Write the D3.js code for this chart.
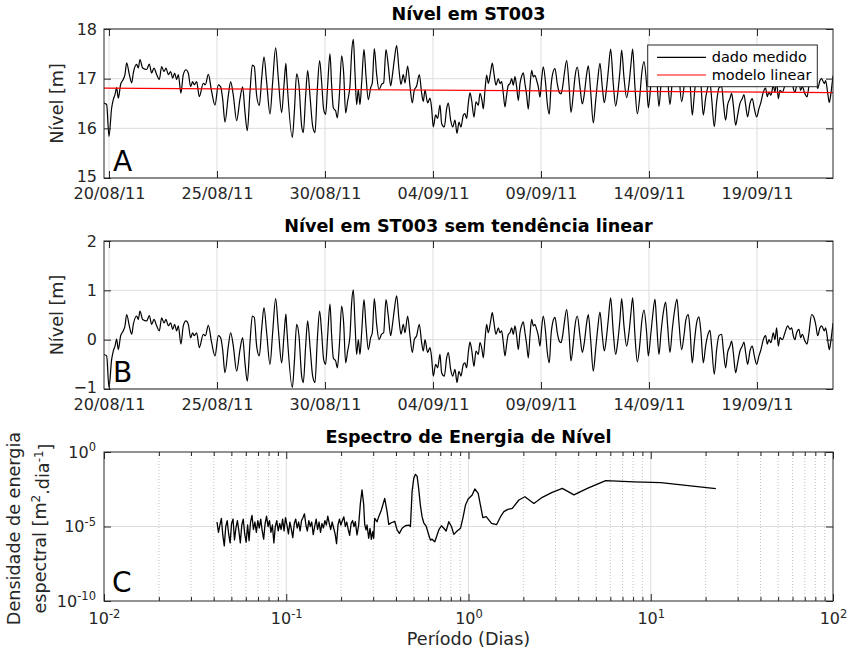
<!DOCTYPE html>
<html lang="pt">
<head>
<meta charset="UTF-8">
<title>Nível em ST003</title>
<style>
  body { margin: 0; background: #fff; }
  svg text { font-family: "DejaVu Sans", sans-serif; fill: #262626; }
</style>
</head>
<body>
<div id="root"></div>
<script src="https://d3js.org/d3.v7.min.js"></script>
<script>
// nível sem tendência [m]; tempo em dias desde 20/08/2011 00:00
const dias = [-0.231, -0.108, 0.0, 0.123, 0.2, 0.278, 0.355, 0.432, 0.54, 0.664, 0.741, 0.818, 0.94, 1.05, 1.127, 1.281, 1.358, 1.435, 1.559, 1.744,
  1.867, 1.975, 2.083, 2.207, 2.33, 2.438, 2.546, 2.639, 2.747, 2.855, 2.948, 3.04, 3.133, 3.21, 3.33, 3.44, 3.565, 3.673, 3.78, 3.873,
  3.95, 4.059, 4.182, 4.367, 4.46, 4.599, 4.753, 4.907, 5.062, 5.17, 5.262, 5.37, 5.525, 5.633, 5.756, 5.91, 6.065, 6.188, 6.296, 6.404,
  6.528, 6.636, 6.728, 6.836, 6.96, 7.068, 7.176, 7.3, 7.454, 7.577, 7.716, 7.84, 7.994, 8.102, 8.19, 8.225, 8.488, 8.58, 8.688, 8.796,
  8.92, 8.997, 9.105, 9.198, 9.306, 9.43, 9.537, 9.645, 9.753, 9.846, 9.938, 10.03, 10.123, 10.231, 10.309, 10.386, 10.494, 10.571, 10.664, 10.772,
  10.864, 10.957, 11.049, 11.157, 11.235, 11.312, 11.389, 11.466, 11.543, 11.62, 11.698, 11.806, 11.898, 12.006, 12.114, 12.191, 12.284, 12.392, 12.5, 12.623,
  12.716, 12.824, 12.932, 13.04, 13.117, 13.21, 13.318, 13.426, 13.519, 13.627, 13.704, 13.827, 13.935, 14.043, 14.136, 14.244, 14.367, 14.475, 14.552, 14.63,
  14.753, 14.861, 14.938, 15.015, 15.123, 15.216, 15.324, 15.401, 15.525, 15.633, 15.71, 15.818, 15.91, 16.019, 16.111, 16.204, 16.296, 16.404, 16.481, 16.559,
  16.636, 16.713, 16.79, 16.898, 16.991, 17.099, 17.176, 17.269, 17.33, 17.407, 17.485, 17.562, 17.67, 17.747, 17.824, 17.917, 18.025, 18.102, 18.179, 18.256,
  18.333, 18.41, 18.488, 18.565, 18.642, 18.719, 18.796, 18.873, 18.951, 19.028, 19.105, 19.182, 19.259, 19.336, 19.414, 19.491, 19.568, 19.645, 19.722, 19.799,
  19.877, 19.954, 20.031, 20.108, 20.216, 20.293, 20.386, 20.463, 20.54, 20.648, 20.756, 20.849, 20.926, 21.003, 21.08, 21.188, 21.296, 21.389, 21.497, 21.574,
  21.682, 21.806, 21.914, 22.006, 22.114, 22.191, 22.299, 22.423, 22.531, 22.623, 22.731, 22.839, 22.932, 23.04, 23.117, 23.225, 23.349, 23.457, 23.549, 23.657,
  23.735, 23.843, 23.966, 24.074, 24.167, 24.244, 24.352, 24.46, 24.583, 24.66, 24.769, 24.892, 24.969, 25.077, 25.17, 25.278, 25.355, 25.463, 25.556, 25.664,
  25.772, 25.864, 25.972, 26.08, 26.173, 26.296, 26.389, 26.512, 26.62, 26.713, 26.821, 26.898, 27.006, 27.099, 27.207, 27.315, 27.407, 27.515, 27.623, 27.716,
  27.824, 27.901, 28.025, 28.133, 28.241, 28.364, 28.441, 28.549, 28.642, 28.75, 28.827, 28.904, 29.012, 29.105, 29.213, 29.321, 29.398, 29.475, 29.568, 29.676,
  29.784, 29.877, 29.985, 30.093, 30.185, 30.293, 30.401, 30.478, 30.556, 30.648, 30.756, 30.833, 30.91, 30.988, 31.065, 31.173, 31.296, 31.42, 31.528, 31.605,
  31.682, 31.759, 31.836, 31.944, 32.022, 32.099, 32.222, 32.315, 32.407, 32.531, 32.639, 32.731, 32.809, 32.917, 32.994, 33.117, 33.179, 33.272, 33.349, 33.41,
  33.52]
const anomalia = [-0.30, -0.33, -0.97, -0.40, -0.23, -0.13, 0.01, -0.20, 0.08, 0.18, 0.28, 0.51, 0.28, 0.11, 0.31, 0.48, 0.41, 0.58, 0.41, 0.38,
  0.49, 0.31, 0.41, 0.28, 0.18, 0.44, 0.34, 0.41, 0.28, 0.34, 0.21, 0.31, 0.18, 0.28, -0.09, 0.28, 0.38, 0.31, 0.04, 0.14,
  0.08, 0.14, -0.16, 0.11, 0.08, 0.29, -0.06, -0.33, 0.08, 0.04, -0.20, -0.67, -0.13, 0.14, -0.13, -0.64, -0.20, 0.04, -0.47, -0.84,
  -0.06, 0.48, 0.45, -0.13, -0.33, 0.21, 0.65, 0.14, -0.50, 0.14, 0.83, 0.21, -0.47, 0.08, 0.52, 0.28, -0.97, -0.47, 0.31, 0.08,
  -0.74, -0.87, -0.13, 0.38, -0.13, -0.74, -0.87, 0.00, 0.58, 0.14, -0.40, -0.50, 0.08, 0.72, 0.08, -0.37, -0.43, -0.57, -0.13, 0.68,
  0.34, -0.47, -0.23, 0.08, 0.75, 1.01, 0.34, -0.30, 0.00, -0.30, 0.14, 0.81, 0.28, -0.20, 0.04, 0.14, 0.83, 0.31, 0.00, 0.11,
  0.14, 0.81, 0.48, 0.08, 0.28, 0.61, 0.89, 0.41, 0.11, 0.31, 0.14, 0.48, 0.08, -0.26, 0.00, 0.08, 0.31, -0.06, -0.23, 0.00,
  -0.26, -0.16, -0.37, -0.74, -0.50, -0.57, -0.30, -0.67, -0.74, -0.37, -0.26, -0.60, -0.74, -0.60, -0.87, -0.64, -0.74, -0.50, -0.47, -0.57,
  -0.26, -0.05, -0.20, -0.54, -0.23, -0.30, -0.06, -0.20, -0.37, 0.00, 0.31, 0.14, 0.38, 0.55, 0.34, 0.11, 0.24, 0.14, 0.18, -0.06,
  -0.33, -0.09, 0.11, 0.14, 0.24, 0.11, 0.28, 0.08, -0.20, 0.14, 0.29, 0.36, 0.14, -0.09, -0.37, 0.08, 0.41, 0.28, 0.31, 0.21,
  0.08, -0.13, 0.24, 0.48, 0.14, -0.26, -0.47, 0.08, 0.34, 0.45, 0.14, -0.03, -0.06, 0.08, 0.34, 0.61, 0.14, -0.43, -0.06, 0.28,
  0.48, 0.08, -0.26, -0.06, 0.34, 0.51, 0.00, -0.64, -0.20, 0.21, 0.56, 0.08, -0.23, 0.08, 0.41, 0.85, 0.14, -0.30, -0.06, 0.41,
  0.83, 0.28, -0.13, 0.14, 0.55, 0.85, 0.08, -0.45, -0.06, 0.34, 0.60, 0.14, -0.33, 0.08, 0.48, 0.82, 0.34, -0.30, 0.14, 0.55,
  0.76, 0.28, -0.26, 0.21, 0.55, 0.82, 0.34, -0.20, 0.08, 0.41, 0.51, 0.21, -0.47, -0.06, 0.34, 0.46, 0.14, -0.47, -0.13, 0.08,
  0.19, -0.13, -0.70, -0.20, 0.08, 0.11, -0.20, -0.57, -0.26, -0.13, -0.03, -0.26, -0.67, -0.47, -0.23, -0.13, -0.05, -0.26, -0.50, -0.23,
  -0.13, -0.33, -0.50, -0.33, -0.20, 0.00, 0.08, -0.09, 0.00, -0.06, 0.14, 0.00, 0.24, -0.13, 0.04, 0.00, 0.14, 0.28, 0.21, 0.24,
  0.08, 0.00, 0.14, 0.21, 0.04, 0.11, -0.03, -0.09, 0.14, 0.51, 0.45, 0.28, 0.08, 0.24, 0.28, 0.18, 0.24, 0.00, -0.20, -0.06,
  0.34]

// modelo linear ajustado ao nível medido (extremidades do registo)
const modeloDias = [-0.231, 33.52]
const modeloNivel = [16.81, 16.72]

const datasTicks = ["2011-08-20", "2011-08-25", "2011-08-30", "2011-09-04", "2011-09-09", "2011-09-14", "2011-09-19"]
const nivelTicks = [15, 16, 17, 18]
const anomaliaTicks = [-1, 0, 1, 2]

// espectro: período [dias] e log10 da densidade de energia [m2.dia-1]
const periodo = [0.04169, 0.04246, 0.04325, 0.04406, 0.04488, 0.04571, 0.04656, 0.04742, 0.04831, 0.04920,
  0.05012, 0.05105, 0.05200, 0.05297, 0.05395, 0.05495, 0.05598, 0.05702, 0.05808, 0.05916,
  0.06026, 0.06138, 0.06252, 0.06368, 0.06486, 0.06607, 0.06730, 0.06855, 0.06982, 0.07112,
  0.07244, 0.07379, 0.07516, 0.07656, 0.07798, 0.07943, 0.08091, 0.08241, 0.08395, 0.08551,
  0.08710, 0.08872, 0.09036, 0.09204, 0.09376, 0.09550, 0.09727, 0.09908, 0.1009, 0.1028,
  0.1047, 0.1067, 0.1086, 0.1107, 0.1127, 0.1148, 0.1169, 0.1191, 0.1213, 0.1236,
  0.1259, 0.1282, 0.1306, 0.1330, 0.1355, 0.1380, 0.1406, 0.1432, 0.1459, 0.1486,
  0.1514, 0.1542, 0.1570, 0.1600, 0.1629, 0.1660, 0.1690, 0.1722, 0.1754, 0.1786,
  0.1820, 0.1854, 0.1888, 0.1923, 0.1959, 0.1995, 0.2032, 0.2070, 0.2109, 0.2148,
  0.2188, 0.2228, 0.2270, 0.2312, 0.2355,
  0.2394, 0.2445, 0.2497, 0.2551, 0.2605, 0.2660, 0.2694, 0.2740, 0.2774, 0.2834,
  0.2882, 0.2931, 0.2981, 0.3019, 0.3057, 0.3149, 0.3216, 0.3327, 0.3470, 0.3574,
  0.3650, 0.3775, 0.3937, 0.4056, 0.4177, 0.4320, 0.4506, 0.4701, 0.4801, 0.4903,
  0.5007, 0.5114, 0.5224, 0.5334, 0.5447, 0.5563, 0.5682, 0.5853, 0.6053, 0.6183,
  0.6316, 0.6531, 0.6726, 0.6871, 0.7105, 0.7319, 0.7538, 0.7796, 0.8064, 0.8306,
  0.8663, 0.9037, 0.9309, 0.9627, 0.9959, 1.0476, 1.0834, 1.130, 1.164, 1.199,
  1.251, 1.338, 1.425, 1.499, 1.563, 1.644, 1.739, 1.890, 2.039, 2.285,
  2.541, 2.858, 3.272, 3.790, 4.489, 5.657, 8.093, 11.35, 22.76]
const logEnergia = [-4.7, -5.4, -4.9, -4.45, -5.6, -6.3, -5.0, -4.6, -5.5, -6.1,
  -4.8, -4.5, -5.9, -5.1, -4.6, -5.3, -6.1, -4.9, -4.5, -5.5,
  -6.05, -4.9, -5.95, -4.7, -4.25, -5.2, -4.7, -5.4, -4.6, -5.1,
  -4.5, -5.3, -5.85, -4.8, -4.3, -5.0, -4.6, -5.4, -4.9, -6.1,
  -5.0, -4.6, -5.3, -4.8, -5.2, -4.5, -5.3, -4.4, -4.9, -5.5,
  -4.7, -5.2, -5.75, -4.8, -4.5, -5.1, -4.7, -5.3, -4.6, -4.4,
  -4.15, -4.9, -5.3, -4.6, -5.0, -4.7, -5.55, -5.0, -4.5, -5.2,
  -4.7, -5.4, -4.8, -5.1, -4.6, -4.9, -4.3, -4.8, -5.2, -4.7,
  -5.1, -5.5, -6.15, -4.9, -4.5, -4.9, -4.6, -4.35, -5.0, -4.7,
  -5.2, -5.6, -4.8, -4.6, -5.0,
  -4.68, -5.57, -4.9, -3.45, -2.55, -3.52, -4.86, -5.23, -4.9, -5.79,
  -5.12, -5.86, -5.35, -5.79, -4.45, -4.68, -4.34, -3.89, -3.11, -4.0,
  -4.86, -4.75, -4.65, -5.23, -5.46, -5.12, -4.95, -4.9, -5.0, -2.66,
  -1.77, -1.5, -1.62, -2.5, -3.6, -4.34, -4.75, -4.97, -5.57, -5.91,
  -5.85, -6.02, -5.57, -5.23, -4.95, -5.12, -5.3, -4.68, -5.0, -5.53,
  -5.3, -5.12, -4.45, -3.56, -3.15, -2.89, -2.48, -2.77, -3.6, -4.41,
  -4.34, -4.79, -4.88, -4.34, -4.0, -3.85, -3.78, -3.22, -3.0, -3.45,
  -3.04, -2.73, -2.44, -2.88, -2.44, -1.92, -2.01, -2.06, -2.46]

// layout
const W = 853, H = 656
const left = 104, width = 833 - 104
const tick = 7
const corEixo = "#262626", corGrade = "#dedede"

const svg = d3.select("#root").append("svg")
  .attr("width", W)
  .attr("height", H)
  .style("display", "block")

const inicio = Date.UTC(2011, 7, 20)
const paraData = d => new Date(inicio + d * 864e5)
const fmtData = d3.utcFormat("%d/%m/%y")

const x = d3.scaleUtc()
  .domain(d3.extent(dias).map(paraData))
  .range([0, width])
const datas = datasTicks.map(s => new Date(s + "T00:00:00Z"))

const nivelModelo = d3.scaleLinear().domain(modeloDias).range(modeloNivel)
const nivel = dias.map((d, i) => anomalia[i] + nivelModelo(d))

function painel(id, top, height, titulo) {
  const g = svg.append("g").attr("transform", `translate(${left},${top})`)
  g.append("clipPath").attr("id", "clip" + id)
    .append("rect").attr("width", width).attr("height", height)
  g.append("text")
    .attr("x", width / 2).attr("y", -9)
    .attr("text-anchor", "middle")
    .style("font-size", "17.6px").style("font-weight", "bold").style("fill", "#000")
    .text(titulo)
  return g
}

function limpar(sel) {
  sel.select(".domain").remove()
  sel.selectAll(".tick line").attr("stroke", corEixo)
}

function moldura(g, height) {
  g.append("rect")
    .attr("width", width).attr("height", height)
    .attr("fill", "none").attr("stroke", corEixo).attr("stroke-width", 1)
}

function painelTempo(id, top, height, dominio, ticks, serie, titulo, letra) {
  const g = painel(id, top, height, titulo)
  const y = d3.scaleLinear().domain(dominio).range([height, 0])

  // grade
  g.append("g").selectAll("line").data(datas).join("line")
    .attr("x1", d => x(d)).attr("x2", d => x(d)).attr("y1", 0).attr("y2", height)
    .attr("stroke", corGrade)
  g.append("g").selectAll("line").data(ticks).join("line")
    .attr("y1", d => y(d)).attr("y2", d => y(d)).attr("x1", 0).attr("x2", width)
    .attr("stroke", corGrade)

  const linha = d3.line().x((d, i) => x(paraData(dias[i]))).y(d => y(d)).curve(d3.curveMonotoneX)
  const dados = g.append("g").attr("clip-path", `url(#clip${id})`)
  dados.append("path").datum(serie)
    .attr("d", linha).attr("fill", "none")
    .attr("stroke", "#000").attr("stroke-width", 1.2).attr("stroke-linejoin", "round")

  g.append("text").attr("x", 9).attr("y", height - 7)
    .style("font-size", "28px").style("fill", "#000").text(letra)

  g.append("g").attr("transform", `translate(0,${height})`)
    .call(d3.axisBottom(x).tickValues(datas).tickFormat(fmtData).tickSizeInner(-tick).tickSizeOuter(0).tickPadding(10))
    .call(limpar)
    .call(a => a.selectAll("text").style("font-size", "16px").attr("fill", corEixo))
  g.append("g")
    .call(d3.axisTop(x).tickValues(datas).tickFormat("").tickSizeInner(-tick).tickSizeOuter(0))
    .call(limpar)
  g.append("g")
    .call(d3.axisLeft(y).tickValues(ticks).tickFormat(d3.format("d")).tickSizeInner(-tick).tickSizeOuter(0).tickPadding(7))
    .call(limpar)
    .call(a => a.selectAll("text").style("font-size", "16px").attr("fill", corEixo))
    .call(a => a.selectAll(".tick text").filter(d => d === dominio[0]).attr("dy", "0.2em"))
  g.append("g").attr("transform", `translate(${width},0)`)
    .call(d3.axisRight(y).tickValues(ticks).tickFormat("").tickSizeInner(-tick).tickSizeOuter(0))
    .call(limpar)
  moldura(g, height)

  g.append("text")
    .attr("transform", `translate(-41,${height / 2}) rotate(-90)`)
    .attr("text-anchor", "middle")
    .style("font-size", "17.6px")
    .text("Nível [m]")
  return { g, y }
}

// A: nível medido e modelo linear
const A = painelTempo("A", 29, 149, [15, 18], nivelTicks, nivel, "Nível em ST003", "A")
A.g.select(`g[clip-path]`).append("path")
  .datum(modeloDias)
  .attr("d", d3.line().x(d => x(paraData(d))).y((d, i) => A.y(modeloNivel[i])))
  .attr("fill", "none").attr("stroke", "#ff0000").attr("stroke-width", 1.2)

const leg = A.g.append("g").attr("transform", `translate(${647.7 - left},${45 - 29})`)
leg.append("rect").attr("width", 169.6).attr("height", 41.7)
  .attr("fill", "#fff").attr("stroke", corEixo).attr("stroke-width", 1)
const itens = [{ nome: "dado medido", cor: "#000" }, { nome: "modelo linear", cor: "#ff0000" }]
itens.forEach((it, i) => {
  const yy = 12.3 + i * 17.7
  leg.append("line").attr("x1", 9.3).attr("x2", 58.3).attr("y1", yy).attr("y2", yy)
    .attr("stroke", it.cor).attr("stroke-width", 1.2)
  leg.append("text").attr("x", 64).attr("y", yy).attr("dy", "0.35em")
    .style("font-size", "14.5px").style("fill", "#000").text(it.nome)
})

// B: sem tendência
painelTempo("B", 241, 148, [-1, 2], anomaliaTicks, anomalia, "Nível em ST003 sem tendência linear", "B")

// C: espectro
const hC = 149
const gC = painel("C", 452, hC, "Espectro de Energia de Nível")
const xl = d3.scaleLog().domain([1e-2, 1e2]).range([0, width])
const yl = d3.scaleLog().domain([1e-10, 1e0]).range([hC, 0])
const xMaior = [1e-2, 1e-1, 1e0, 1e1, 1e2]
const yMaior = [1e-10, 1e-5, 1e0]
const xMenor = xl.ticks().filter(d => !xMaior.some(m => Math.abs(d - m) < 1e-12))

gC.append("g").selectAll("line").data(xMenor).join("line")
  .attr("x1", d => xl(d)).attr("x2", d => xl(d)).attr("y1", 0).attr("y2", hC)
  .attr("stroke", "#c4c4c4").attr("stroke-dasharray", "1,2")
gC.append("g").selectAll("line").data(xMaior.slice(1, -1)).join("line")
  .attr("x1", d => xl(d)).attr("x2", d => xl(d)).attr("y1", 0).attr("y2", hC)
  .attr("stroke", corGrade)
gC.append("g").selectAll("line").data(yMaior.slice(1, -1)).join("line")
  .attr("y1", d => yl(d)).attr("y2", d => yl(d)).attr("x1", 0).attr("x2", width)
  .attr("stroke", corGrade)

gC.append("g").attr("clip-path", "url(#clipC)")
  .append("path").datum(periodo)
  .attr("d", d3.line().x(d => xl(d)).y((d, i) => yl(Math.pow(10, logEnergia[i]))))
  .attr("fill", "none").attr("stroke", "#000").attr("stroke-width", 1.3).attr("stroke-linejoin", "round")

gC.append("text").attr("x", 8).attr("y", hC - 9)
  .style("font-size", "28px").style("fill", "#000").text("C")

function potencia(sel) {
  sel.selectAll(".tick text").each(function (d) {
    const t = d3.select(this)
    t.text("10").style("font-size", "16px").attr("fill", corEixo)
    t.append("tspan").attr("dy", "-0.55em").style("font-size", "11.5px")
      .text(Math.round(Math.log10(d)))
  })
}

gC.append("g").attr("transform", `translate(0,${hC})`)
  .call(d3.axisBottom(xl).tickValues(xMaior).tickSizeInner(-tick).tickSizeOuter(0).tickPadding(12))
  .call(limpar).call(potencia)
gC.append("g").attr("transform", `translate(0,${hC})`)
  .call(d3.axisBottom(xl).tickValues(xMenor).tickFormat("").tickSizeInner(-4).tickSizeOuter(0))
  .call(limpar)
gC.append("g")
  .call(d3.axisTop(xl).tickValues(xMaior).tickFormat("").tickSizeInner(-tick).tickSizeOuter(0))
  .call(limpar)
gC.append("g")
  .call(d3.axisTop(xl).tickValues(xMenor).tickFormat("").tickSizeInner(-4).tickSizeOuter(0))
  .call(limpar)
gC.append("g")
  .call(d3.axisLeft(yl).tickValues(yMaior).tickSizeInner(-tick).tickSizeOuter(0).tickPadding(8))
  .call(limpar).call(potencia)
gC.append("g").attr("transform", `translate(${width},0)`)
  .call(d3.axisRight(yl).tickValues(yMaior).tickFormat("").tickSizeInner(-tick).tickSizeOuter(0))
  .call(limpar)
moldura(gC, hC)

gC.append("text")
  .attr("x", width / 2).attr("y", hC + 44)
  .attr("text-anchor", "middle").style("font-size", "17.6px")
  .text("Período (Dias)")

const yLab = gC.append("g").attr("transform", `translate(-84,${hC / 2 + 2}) rotate(-90)`)
yLab.append("text").attr("text-anchor", "middle").attr("y", 0)
  .style("font-size", "17.6px").text("Densidade de energia")
const l2 = yLab.append("text").attr("text-anchor", "middle").attr("y", 26)
  .style("font-size", "17.6px")
l2.append("tspan").text("espectral [m")
l2.append("tspan").attr("dy", "-0.5em").style("font-size", "12px").text("2")
l2.append("tspan").attr("dy", "0.5em").text(".dia")
l2.append("tspan").attr("dy", "-0.5em").style("font-size", "12px").text("-1")
l2.append("tspan").attr("dy", "0.5em").text("]")
</script>
</body>
</html>
